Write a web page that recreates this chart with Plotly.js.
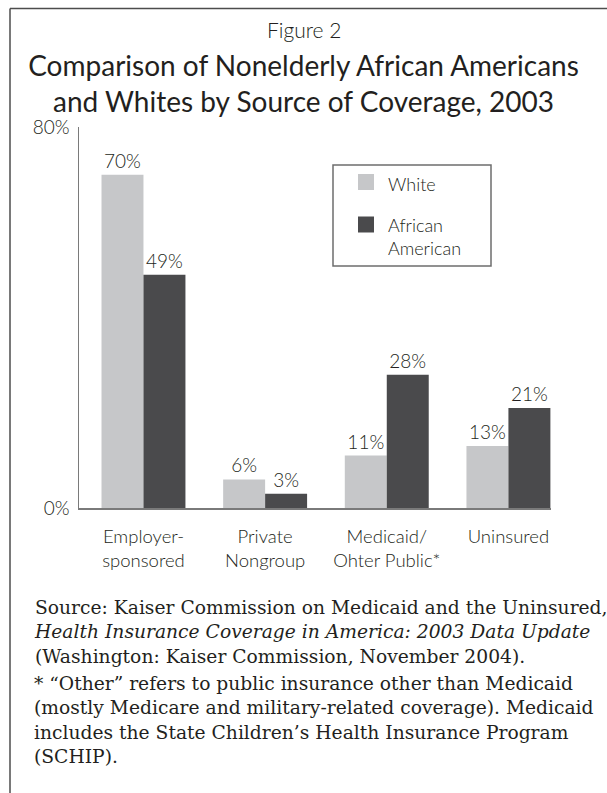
<!DOCTYPE html>
<html>
<head>
<meta charset="utf-8">
<script src="https://cdn.plot.ly/plotly-3.0.1.min.js"></script>
<style>
  html, body { margin: 0; padding: 0; background: #ffffff; }
  #chart { width: 607px; height: 793px; }
</style>
</head>
<body>
<div id="chart"></div>
<script>
// ---- data ----
const categories = ["Employer-<br>sponsored", "Private<br>Nongroup", "Medicaid/<br>Ohter Public*", "Uninsured"];
const whiteValues = [70, 6, 11, 13];
const africanAmericanValues = [49, 3, 28, 21];
const seriesNames = ["White", "African<br>American"];
const yTickVals = [0, 80];
const yTickText = ["0%", "80%"];

// ---- layout geometry (pixels) ----
const W = 607, H = 793;
const M = { l: 79, r: 56, t: 127, b: 285 };
const plotW = W - M.l - M.r, plotH = H - M.t - M.b;
const px = x => (x - M.l) / plotW;          // pixel x -> paper x
const py = y => (H - M.b - y) / plotH;      // pixel y -> paper y

const sansFont = "Lato, 'Open Sans', sans-serif";
const serifFont = "'DejaVu Serif', 'Liberation Serif', serif";
const txt = "#231f20";
const whiteColor = "#c6c7c9";
const aaColor = "#4a4a4c";
const LIGHT = 300;

const traces = [
  {
    type: "bar", name: seriesNames[0], x: categories, y: whiteValues,
    marker: { color: whiteColor },
    texttemplate: "%{y}%", textposition: "outside", cliponaxis: false,
    textfont: { family: sansFont, size: 19, color: txt, weight: LIGHT },
    hoverinfo: "skip"
  },
  {
    type: "bar", name: seriesNames[1], x: categories, y: africanAmericanValues,
    marker: { color: aaColor },
    texttemplate: "%{y}%", textposition: "outside", cliponaxis: false,
    textfont: { family: sansFont, size: 19, color: txt, weight: LIGHT },
    hoverinfo: "skip"
  }
];

const annotations = [
  { text: "Figure 2", xref: "paper", yref: "paper", x: px(303.5), y: py(30),
    xanchor: "center", yanchor: "middle", showarrow: false,
    font: { family: sansFont, size: 21, color: txt, weight: LIGHT } },
  // legend labels
  { text: seriesNames[0], xref: "paper", yref: "paper", x: px(386), y: py(184),
    xanchor: "left", yanchor: "middle", showarrow: false, align: "left",
    font: { family: sansFont, size: 18, color: txt, weight: LIGHT } },
  { text: seriesNames[1], xref: "paper", yref: "paper", x: px(386), y: py(236),
    xanchor: "left", yanchor: "middle", showarrow: false, align: "left",
    font: { family: sansFont, size: 18, color: txt, weight: LIGHT } },
  // footnotes
  { text: "Source: Kaiser Commission on Medicaid and the Uninsured,<br><i>Health Insurance Coverage in America: 2003 Data Update</i><br>(Washington: Kaiser Commission, November 2004).",
    xref: "paper", yref: "paper", x: px(32), y: py(632),
    xanchor: "left", yanchor: "middle", showarrow: false, align: "left",
    font: { family: serifFont, size: 18.7, color: txt } },
  { text: "* \u201cOther\u201d refers to public insurance other than Medicaid<br>(mostly Medicare and military-related coverage). Medicaid<br>includes the State Children\u2019s Health Insurance Program<br>(SCHIP).",
    xref: "paper", yref: "paper", x: px(32), y: py(720),
    xanchor: "left", yanchor: "middle", showarrow: false, align: "left",
    font: { family: serifFont, size: 18.7, color: txt } }
];

const shapes = [
  // frame lines
  { type: "line", xref: "paper", yref: "paper", x0: px(10), x1: px(607), y0: py(8.5), y1: py(8.5),
    line: { color: "#4d4d4d", width: 1.5 } },
  { type: "line", xref: "paper", yref: "paper", x0: px(10), x1: px(10), y0: py(8.5), y1: py(793),
    line: { color: "#4d4d4d", width: 1.5 } },
  // legend box
  { type: "rect", xref: "paper", yref: "paper", x0: px(333), x1: px(491), y0: py(165), y1: py(266),
    line: { color: "#6d6d6d", width: 1.5 }, fillcolor: "rgba(0,0,0,0)" },
  // legend swatches
  { type: "rect", xref: "paper", yref: "paper", x0: px(358), x1: px(374), y0: py(174), y1: py(190),
    line: { width: 0 }, fillcolor: whiteColor },
  { type: "rect", xref: "paper", yref: "paper", x0: px(358), x1: px(374), y0: py(216.5), y1: py(232.5),
    line: { width: 0 }, fillcolor: aaColor }
];

const layout = {
  width: W, height: H,
  margin: M,
  paper_bgcolor: "#ffffff", plot_bgcolor: "#ffffff",
  showlegend: false,
  barmode: "group",
  bargap: 0.31, bargroupgap: 0,
  title: {
    text: "Comparison of Nonelderly African Americans<br>and Whites by Source of Coverage, 2003",
    font: { family: sansFont, size: 28, color: txt, weight: 400 },
    x: 0.5, xanchor: "center", xref: "container",
    y: 1 - 76 / H, yanchor: "middle", yref: "container"
  },
  xaxis: {
    type: "category",
    range: [-0.53, 3.35],
    showgrid: false, zeroline: false,
    showline: true, linecolor: "#7a7a7a", linewidth: 1.5,
    ticks: "", ticklabelstandoff: 11,
    tickfont: { family: sansFont, size: 18.5, color: txt, weight: LIGHT },
    fixedrange: true
  },
  yaxis: {
    range: [0, 80],
    showgrid: false, zeroline: false,
    showline: true, linecolor: "#7a7a7a", linewidth: 1.5,
    ticks: "", tickvals: yTickVals, ticktext: yTickText,
    ticklabelstandoff: 4,
    tickfont: { family: sansFont, size: 19, color: txt, weight: LIGHT },
    fixedrange: true
  },
  annotations: annotations,
  shapes: shapes
};

Plotly.newPlot("chart", traces, layout, { displayModeBar: false, staticPlot: true });
</script>
</body>
</html>
